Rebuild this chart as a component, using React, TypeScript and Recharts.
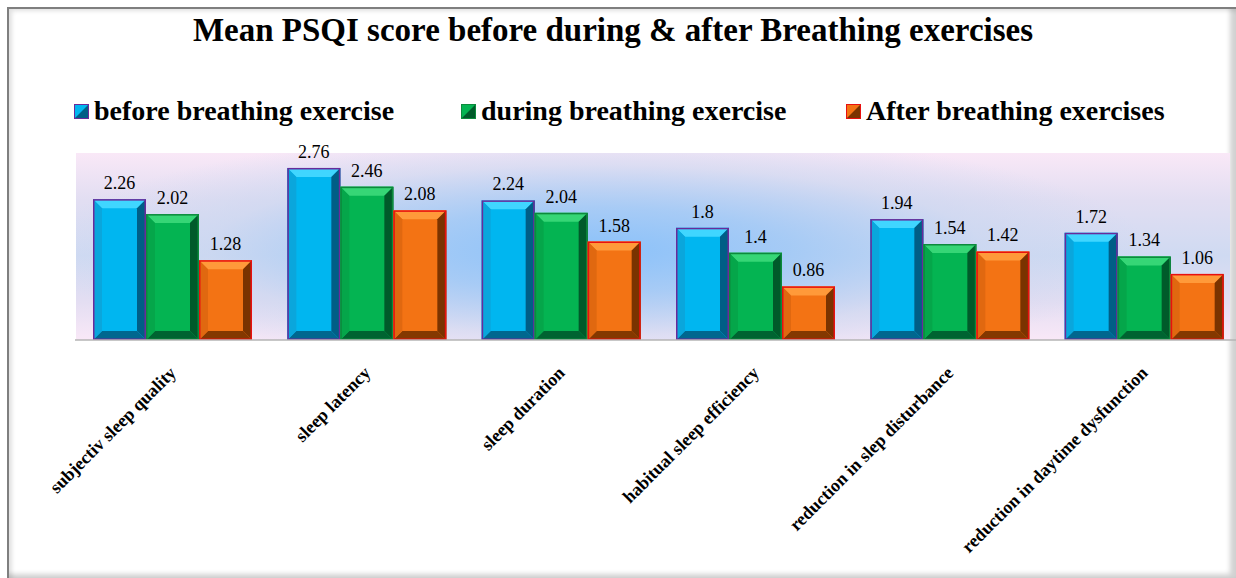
import React from "react";
import { Bar, BarChart, LabelList, XAxis, YAxis } from "recharts";

const categories = [
  "subjectiv sleep quality",
  "sleep latency",
  "sleep duration",
  "habitual sleep efficiency",
  "reduction in slep disturbance",
  "reduction in daytime dysfunction",
];
const seriesNames = [
  "before breathing exercise",
  "during breathing exercise",
  "After breathing exercises",
];
const beforeValues = [2.26, 2.76, 2.24, 1.8, 1.94, 1.72];
const duringValues = [2.02, 2.46, 2.04, 1.4, 1.54, 1.34];
const afterValues = [1.28, 2.08, 1.58, 0.86, 1.42, 1.06];

const data = categories.map((name, i) => ({
  name,
  before: beforeValues[i],
  during: duringValues[i],
  after: afterValues[i],
}));

const serif = "'Liberation Serif', 'Times New Roman', serif";

type Shade = { main: string; top: string; right: string; bottom: string; left: string; edge: string };

const shades: Shade[] = [
  { main: "#00b6f0", top: "#40d6ff", right: "#005e86", bottom: "#00678f", left: "#0aa6dc", edge: "#6a2a9a" },
  { main: "#04b452", top: "#36d676", right: "#005a2a", bottom: "#006331", left: "#05a64a", edge: "#0c8a3c" },
  { main: "#f37314", top: "#ff9a3a", right: "#7a3300", bottom: "#843800", left: "#e06810", edge: "#e81010" },
];

function bevelShape(s: Shade) {
  return (props: any) => {
    const { x, y, width: w, height: h } = props;
    if (!h || h <= 0) return <g />;
    const b = Math.min(9, h / 2);
    return (
      <g>
        <rect x={x} y={y} width={w} height={h} fill={s.main} />
        <polygon points={`${x},${y} ${x + w},${y} ${x + w - b},${y + b} ${x + b},${y + b}`} fill={s.top} />
        <polygon points={`${x + w},${y} ${x + w},${y + h} ${x + w - b},${y + h - b} ${x + w - b},${y + b}`} fill={s.right} />
        <polygon points={`${x},${y + h} ${x + w},${y + h} ${x + w - b},${y + h - b} ${x + b},${y + h - b}`} fill={s.bottom} />
        <polygon points={`${x},${y} ${x + b},${y + b} ${x + b},${y + h - b} ${x},${y + h}`} fill={s.left} />
        <rect x={x + 0.75} y={y + 0.75} width={w - 1.5} height={h - 1.5} fill="none" stroke={s.edge} strokeWidth={1.5} />
      </g>
    );
  };
}

function ValueLabel(props: any) {
  const { x, y, width, value } = props;
  return (
    <text
      x={x + width / 2}
      y={y - 10}
      textAnchor="middle"
      fontFamily="Liberation Serif"
      fontSize={18}
      fill="#000"
    >
      {value}
    </text>
  );
}

function AngledTick(props: any) {
  const { x, y, payload } = props;
  const tx = x + 5;
  const ty = y + 34;
  return (
    <text
      x={tx}
      y={ty}
      transform={`rotate(-45, ${tx}, ${ty})`}
      textAnchor="end"
      fontFamily="Liberation Serif"
      fontWeight="bold"
      fontSize={18}
      fill="#000"
    >
      {payload.value}
    </text>
  );
}

function LegendIcon({ s }: { s: Shade }) {
  return (
    <svg width={15} height={15} style={{ display: "block" }}>
      <rect x={0} y={0} width={15} height={15} fill={s.main} />
      <polygon points="15,0 15,15 0,15" fill={s.right} />
      <rect x={0.5} y={0.5} width={14} height={14} fill="none" stroke={s.edge} strokeWidth={1} />
    </svg>
  );
}

const legendX = [74, 461, 846];

export default function App() {
  return (
    <div
      style={{
        position: "absolute",
        left: 0,
        top: 0,
        width: 1236,
        height: 578,
        overflow: "hidden",
        background: "#fff",
      }}
    >
      <div
        style={{
          position: "absolute",
          left: 7,
          top: 7,
          width: 1229,
          height: 571,
          borderLeft: "2px solid #7f7f7f",
          borderTop: "2px solid #7f7f7f",
          boxShadow: "inset 3px 2px 4px rgba(0,0,0,0.12), inset -6px -4px 5px rgba(0,0,0,0.18)",
          boxSizing: "border-box",
        }}
      />
      <div
        style={{
          position: "absolute",
          left: 76,
          top: 153,
          width: 1154,
          height: 187,
          background:
            "radial-gradient(ellipse 48% 65% at 45% 52%, rgba(135,192,250,0.95) 0%, rgba(158,200,246,0.85) 35%, rgba(200,214,240,0.55) 70%, rgba(248,230,246,0) 100%), linear-gradient(#f9e8f7 0%, #e2def2 25%, #cfdaf2 55%, #e4def2 80%, #f9e8f7 100%)",
        }}
      />
      <div
        style={{
          position: "absolute",
          left: 0,
          top: 12,
          width: 1226,
          textAlign: "center",
          fontFamily: serif,
          fontWeight: "bold",
          fontSize: 33,
          color: "#000",
          whiteSpace: "nowrap",
        }}
      >
        Mean PSQI score before during &amp; after Breathing exercises
      </div>
      {seriesNames.map((n, i) => (
        <div
          key={n}
          style={{
            position: "absolute",
            left: legendX[i],
            top: 95,
            display: "flex",
            alignItems: "center",
            gap: 5,
            fontFamily: serif,
            fontWeight: "bold",
            fontSize: 28,
            color: "#000",
            whiteSpace: "nowrap",
          }}
        >
          <LegendIcon s={shades[i]} />
          <span>{n}</span>
        </div>
      ))}
      <div style={{ position: "absolute", left: 0, top: 0 }}>
        <BarChart
          width={1246}
          height={578}
          data={data}
          margin={{ top: 153, right: 5, bottom: 88, left: 75 }}
          barSize={53}
          barGap={0}
        >
          <XAxis
            dataKey="name"
            interval={0}
            height={150}
            tickLine={false}
            tickSize={0}
            tickMargin={0}
            axisLine={{ stroke: "#b4b4b4", strokeWidth: 1.5 }}
            tick={<AngledTick />}
          />
          <YAxis hide domain={[0, 3]} />
          <Bar dataKey="before" name={seriesNames[0]} isAnimationActive={false} shape={bevelShape(shades[0])}>
            <LabelList dataKey="before" content={<ValueLabel />} />
          </Bar>
          <Bar dataKey="during" name={seriesNames[1]} isAnimationActive={false} shape={bevelShape(shades[1])}>
            <LabelList dataKey="during" content={<ValueLabel />} />
          </Bar>
          <Bar dataKey="after" name={seriesNames[2]} isAnimationActive={false} shape={bevelShape(shades[2])}>
            <LabelList dataKey="after" content={<ValueLabel />} />
          </Bar>
        </BarChart>
      </div>
    </div>
  );
}
